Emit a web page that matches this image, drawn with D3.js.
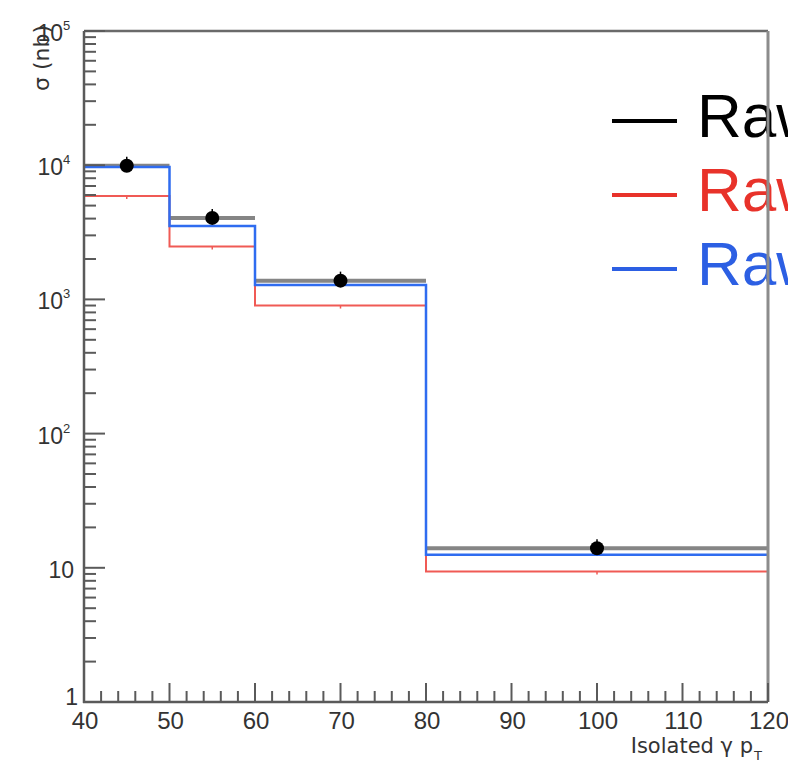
<!DOCTYPE html>
<html><head><meta charset="utf-8">
<script src="https://cdn.jsdelivr.net/npm/d3@7"></script>
<style>html,body{margin:0;padding:0;background:#fff;overflow:hidden}</style>
</head><body>
<svg id="c" width="788" height="763"></svg>
<script>
// Data
const binEdges = [40, 50, 60, 80, 120];
const blackVals = [9900, 4050, 1380, 14.0];
const redVals = [5900, 2480, 900, 9.4];
const blueVals = [9700, 3520, 1280, 12.5];
const xTicks = [40, 50, 60, 70, 80, 90, 100, 110, 120];
const yDecades = [1, 10, 100, 1000, 10000, 100000];
const yDecadeLabels = [["1",""],["10",""],["10","2"],["10","3"],["10","4"],["10","5"]];
const legendNames = ["Raw", "Raw", "Raw"];
const legendColors = ["#000000", "#e8322a", "#2c5fe3"];

const svg = d3.select("#c");
const L = 84, R = 768, T = 31, B = 702;
const x = d3.scaleLinear().domain([40, 120]).range([L, R]);
const y = d3.scaleLog().domain([1, 100000]).range([B, T]);
const font = "Liberation Sans, Arial, Helvetica, sans-serif";
const wideFont = "DejaVu Sans, Verdana, sans-serif";

function stepPath(vals) {
  let p = d3.path();
  vals.forEach((v, i) => {
    const x0 = x(binEdges[i]), x1 = x(binEdges[i+1]), yy = y(v);
    if (i === 0) p.moveTo(x0, yy); else p.lineTo(x0, yy);
    p.lineTo(x1, yy);
  });
  return p.toString();
}

const g = svg.append("g");
// black histogram: horizontal bin bars
blackVals.forEach((v, i) => {
  g.append("line").attr("x1", x(binEdges[i])).attr("x2", x(binEdges[i+1]))
    .attr("y1", y(v)).attr("y2", y(v)).attr("stroke", "#858585").attr("stroke-width", 4);
});
// red
g.append("path").attr("d", stepPath(redVals)).attr("fill", "none")
  .attr("stroke", "#f05a55").attr("stroke-width", 2);
redVals.forEach((v, i) => {
  const cx = x((binEdges[i]+binEdges[i+1])/2);
  g.append("line").attr("x1", cx).attr("x2", cx).attr("y1", y(v)).attr("y2", y(v)+3)
    .attr("stroke", "#f05a55").attr("stroke-width", 1.5);
});
// blue
g.append("path").attr("d", stepPath(blueVals)).attr("fill", "none")
  .attr("stroke", "#2f6cf0").attr("stroke-width", 2.5);
// black markers
blackVals.forEach((v, i) => {
  const cx = x((binEdges[i]+binEdges[i+1])/2);
  g.append("line").attr("x1", cx).attr("x2", cx).attr("y1", y(v)-9).attr("y2", y(v)+3)
    .attr("stroke", "#000").attr("stroke-width", 1.5);
  g.append("circle").attr("cx", cx).attr("cy", y(v)).attr("r", 7).attr("fill", "#000");
});

// Legend
legendNames.forEach((n, i) => {
  const ly = 121 + i * 74;
  svg.append("line").attr("x1", 612).attr("x2", 677).attr("y1", ly).attr("y2", ly)
    .attr("stroke", legendColors[i]).attr("stroke-width", 4);
  svg.append("text").attr("x", 697).attr("y", ly + 16).attr("font-family", font)
    .attr("font-size", 62).attr("fill", legendColors[i]).text(n);
});

// Frame
const fc = "#5a5a5a";
svg.append("line").attr("x1", L).attr("x2", R).attr("y1", T).attr("y2", T).attr("stroke", "#6a6a6a").attr("stroke-width", 2.5);
svg.append("line").attr("x1", R).attr("x2", R).attr("y1", T).attr("y2", B).attr("stroke", "#8c8c8c").attr("stroke-width", 3);
svg.append("line").attr("x1", L).attr("x2", L).attr("y1", T).attr("y2", B+1).attr("stroke", fc).attr("stroke-width", 2.5);
svg.append("line").attr("x1", L-1).attr("x2", R).attr("y1", B).attr("y2", B).attr("stroke", fc).attr("stroke-width", 2.5);

// Y ticks
const yMinor = [];
for (let d = 1; d < 100000; d *= 10) for (let k = 2; k <= 9; k++) yMinor.push(d * k);
yMinor.forEach(v => svg.append("line").attr("x1", L).attr("x2", L + 12).attr("y1", y(v)).attr("y2", y(v)).attr("stroke", fc).attr("stroke-width", 2));
yDecades.forEach(v => svg.append("line").attr("x1", L).attr("x2", L + 21).attr("y1", y(v)).attr("y2", y(v)).attr("stroke", fc).attr("stroke-width", 2));

yDecades.forEach((v, i) => {
  const [base, sup] = yDecadeLabels[i];
  svg.append("text").attr("font-family", font).attr("font-size", 23).attr("fill", "#333")
    .attr("text-anchor", "end").attr("x", sup ? 63 : (v === 1 ? 78 : 74))
    .attr("y", v === 1 ? y(v) + 3 : y(v) + 10).text(base);
  if (sup) svg.append("text").attr("font-family", font).attr("font-size", 13).attr("fill", "#333")
    .attr("x", 63).attr("y", y(v) - 1).text(sup);
});

// X ticks
const xMinor = d3.range(42, 120, 2).filter(v => v % 10 !== 0);
xMinor.forEach(v => svg.append("line").attr("x1", x(v)).attr("x2", x(v)).attr("y1", B).attr("y2", B - 11).attr("stroke", fc).attr("stroke-width", 2));
xTicks.forEach(v => svg.append("line").attr("x1", x(v)).attr("x2", x(v)).attr("y1", B).attr("y2", B - 19).attr("stroke", fc).attr("stroke-width", 2));
xTicks.forEach(v => svg.append("text").attr("font-family", font).attr("font-size", 24).attr("fill", "#333")
  .attr("text-anchor", "middle").attr("x", x(v) + 1).attr("y", 729).text(v));

// Axis titles
svg.append("text").attr("font-family", wideFont).attr("font-size", 21).attr("fill", "#333")
  .attr("text-anchor", "end").attr("x", 753).attr("y", 753)
  .text("Isolated γ p");
svg.append("text").attr("font-family", wideFont).attr("font-size", 13).attr("fill", "#333")
  .attr("x", 754).attr("y", 760).text("T");

svg.append("text").attr("font-family", wideFont).attr("font-size", 22).attr("fill", "#333")
  .attr("text-anchor", "end").attr("transform", "translate(49,25) rotate(-90)")
  .text("σ (nb)");
</script>
</body></html>
